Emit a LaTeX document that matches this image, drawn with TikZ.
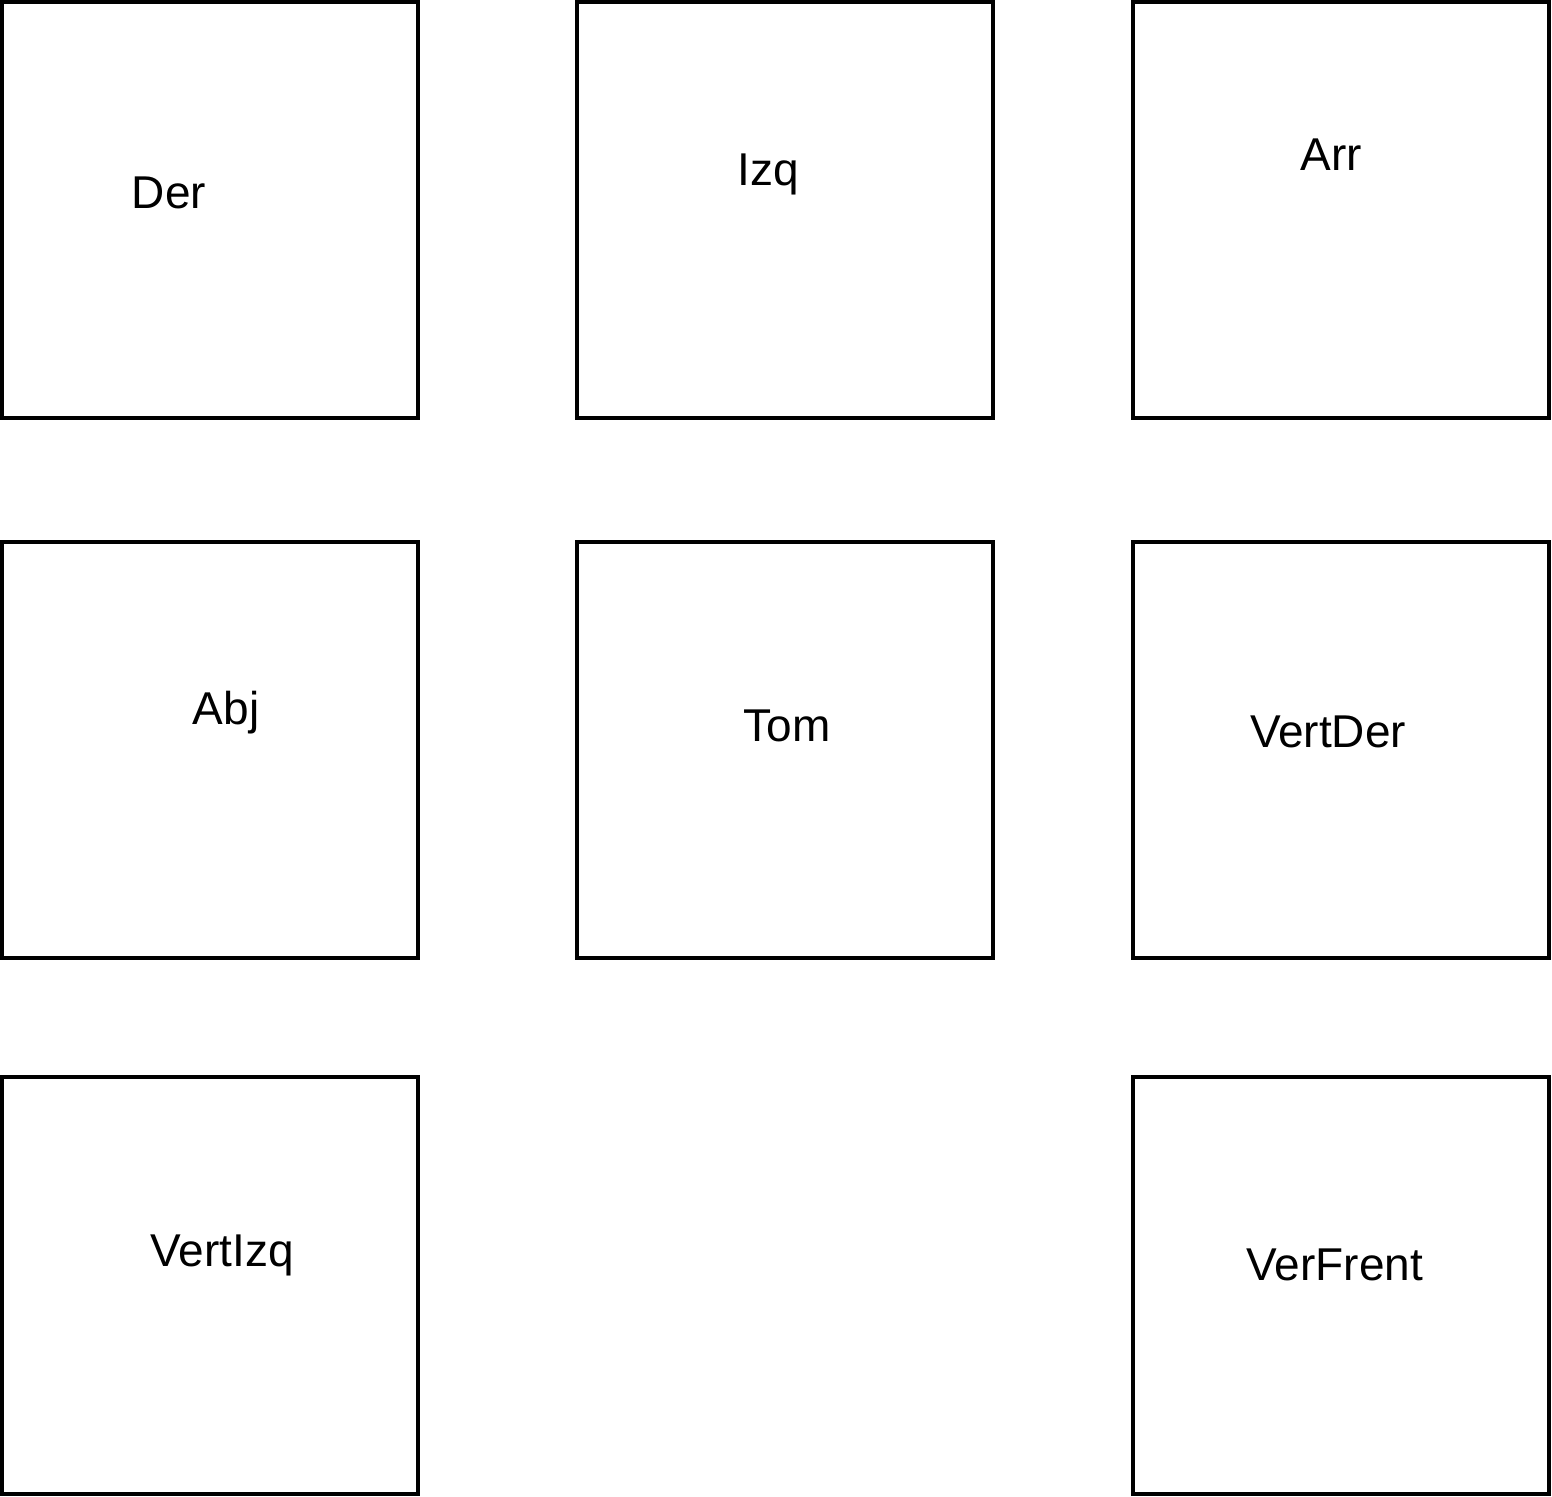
\documentclass[tikz,border=0pt]{standalone}
\usepackage{fontspec}
\setmainfont{Liberation Sans}
\begin{document}
\begin{tikzpicture}[x=1pt,y=-1pt,
  box/.style={draw=black,line width=3.5pt},
  lbl/.style={anchor=base,inner sep=0pt,font=\fontsize{46}{50}\selectfont}]
\useasboundingbox (0,0) rectangle (1552,1496);
\draw[box] (2,2) rectangle (418,418);
\draw[box] (577,2) rectangle (993,418);
\draw[box] (1133,2) rectangle (1549,418);
\draw[box] (2,542) rectangle (418,958);
\draw[box] (577,542) rectangle (993,958);
\draw[box] (1133,542) rectangle (1549,958);
\draw[box] (2,1077) rectangle (418,1494);
\draw[box] (1133,1077) rectangle (1549,1494);
\node[lbl] (der) at (169,208) {Der};
\node[lbl] (izq) at (768,185) {Izq};
\node[lbl] (arr) at (1331,170) {Arr};
\node[lbl] (abj) at (226,724) {Abj};
\node[lbl] (tom) at (787,741) {Tom};
\node[lbl] (vertder) at (1328,747) {VertDer};
\node[lbl] (vertizq) at (222,1266) {VertIzq};
\node[lbl] (verfrent) at (1335,1280) {VerFrent};
\end{tikzpicture}
\end{document}
